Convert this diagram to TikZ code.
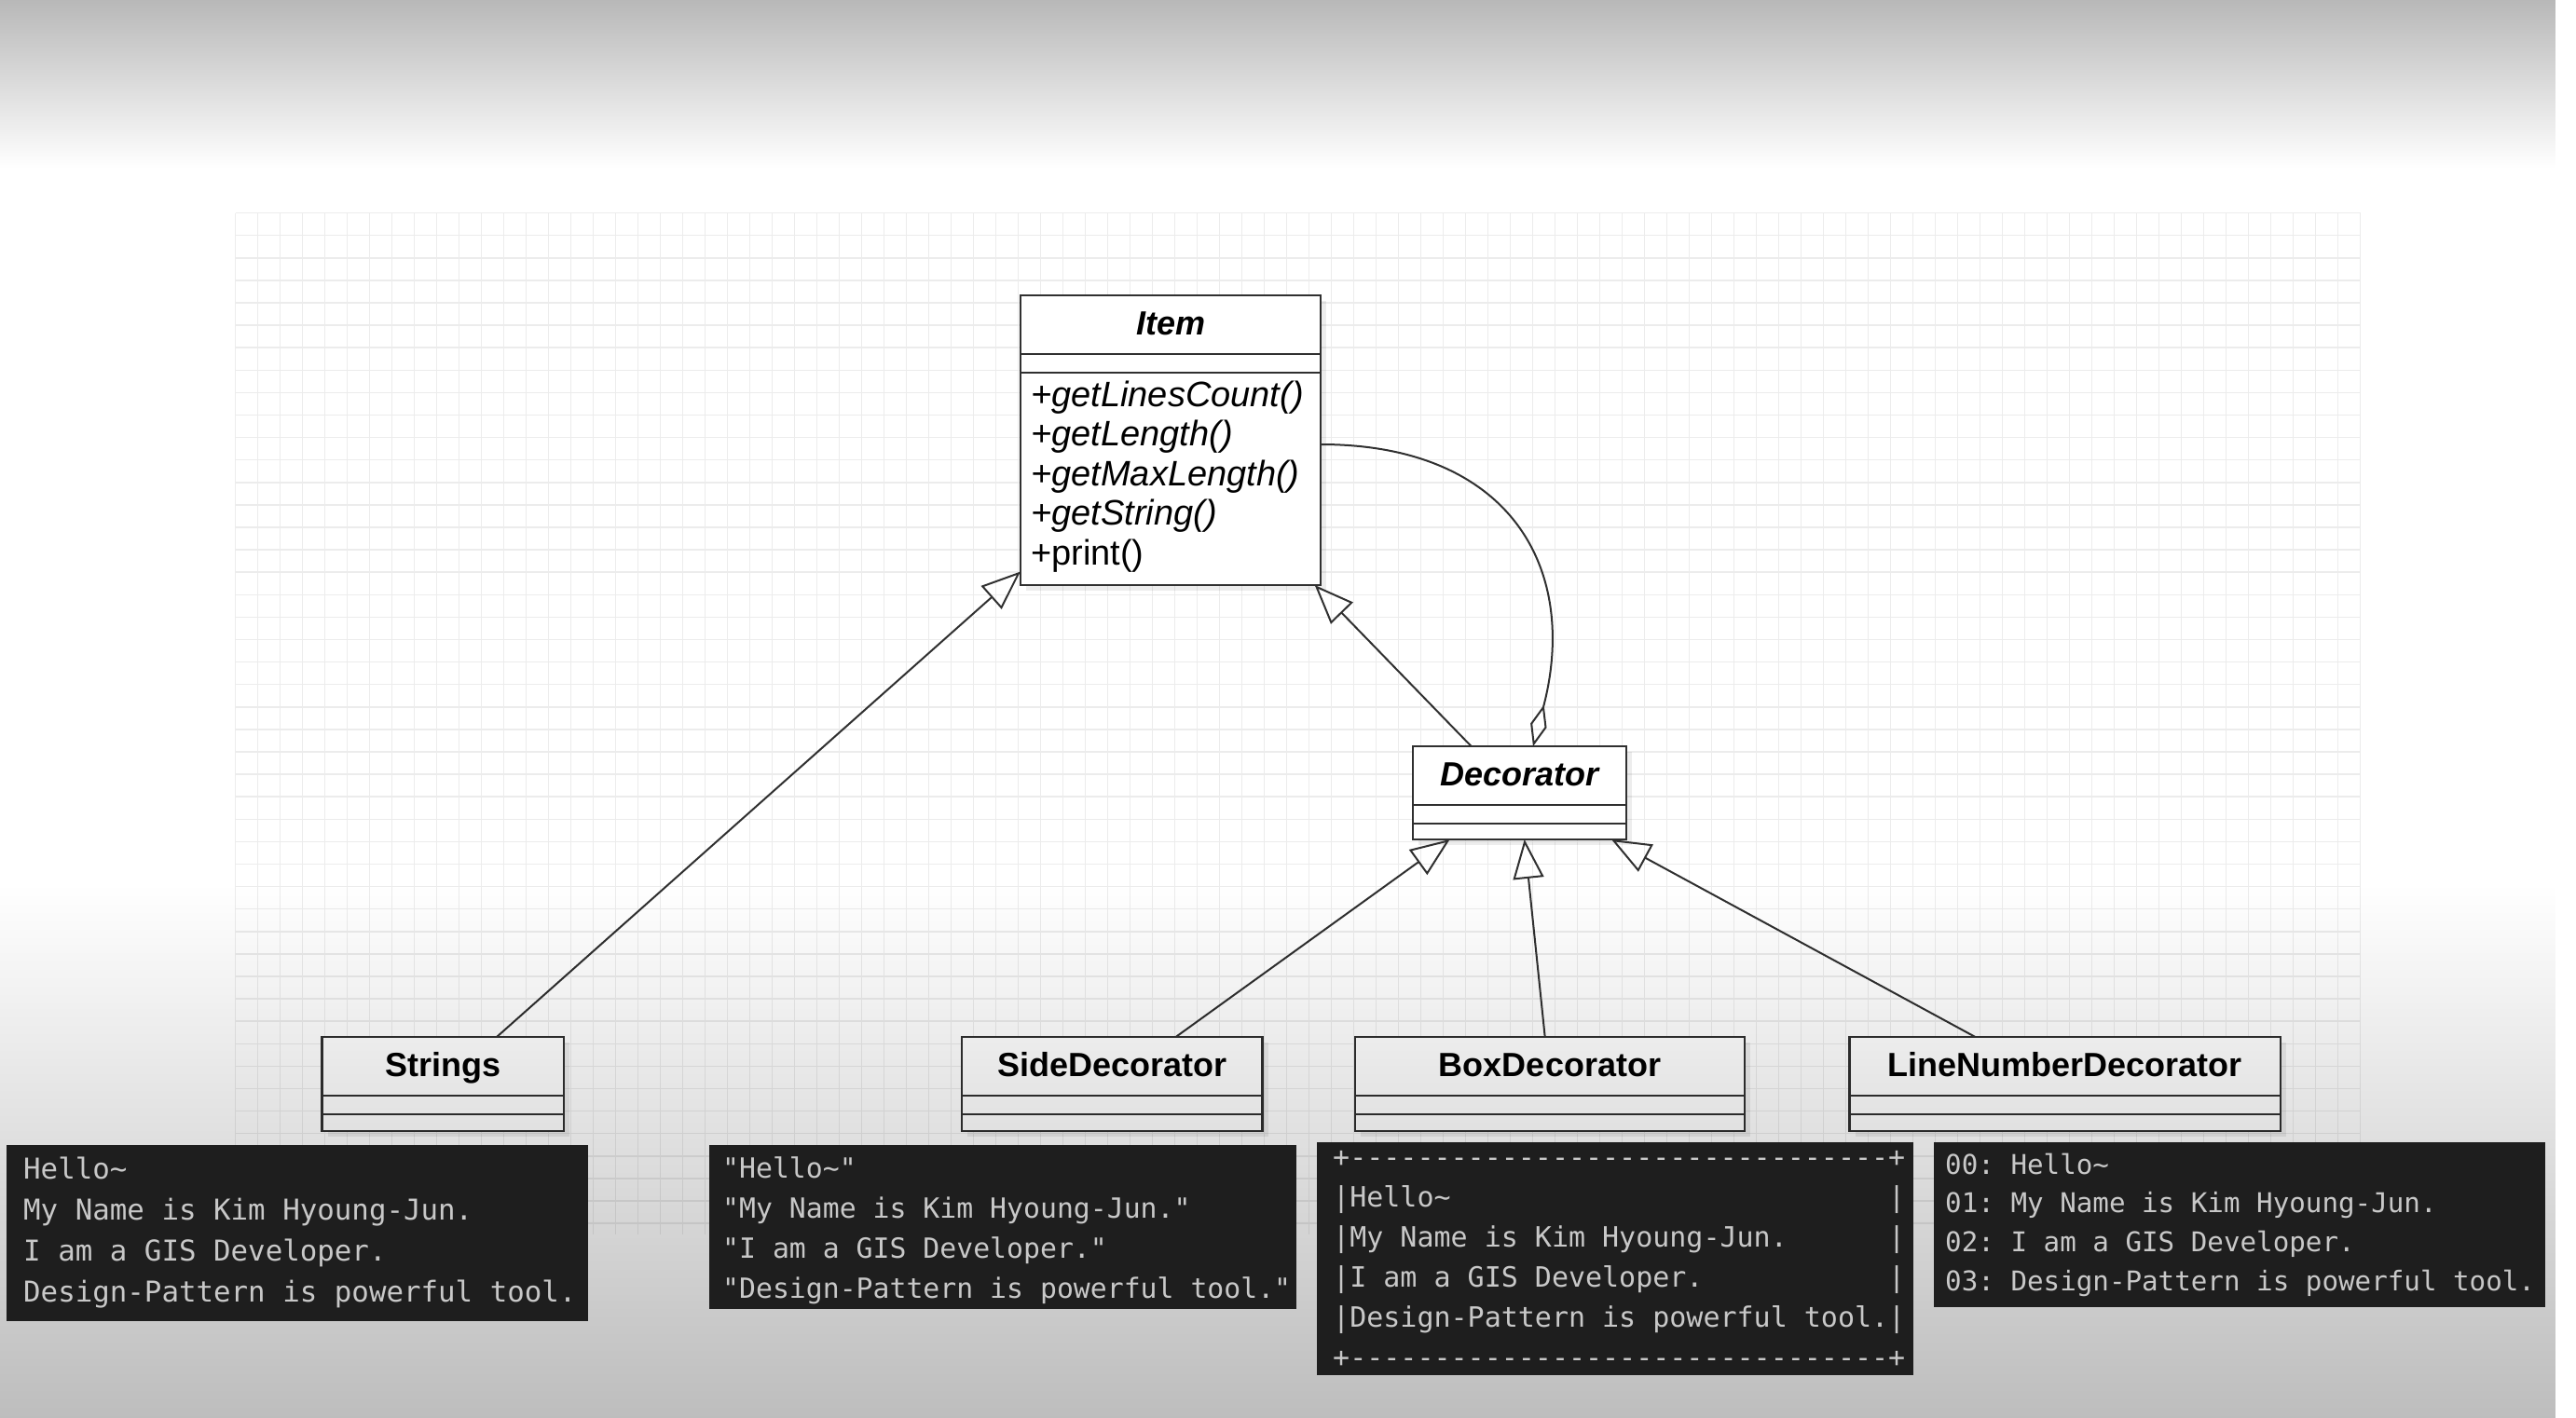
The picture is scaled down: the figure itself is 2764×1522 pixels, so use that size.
\documentclass[tikz,border=0pt]{standalone}
\usepackage{fontspec}
\setmainfont{Liberation Sans}
\setmonofont{DejaVu Sans Mono}
\usetikzlibrary{arrows.meta,calc,fadings,shadows}
\definecolor{lineC}{HTML}{303030}
\definecolor{consBg}{HTML}{1E1E1E}
\definecolor{consFg}{HTML}{C8C8C8}
\definecolor{gridC}{HTML}{ECECEC}
\tikzfading[name=fadedown, top color=transparent!100, bottom color=transparent!0]
\tikzfading[name=fadetop, top color=transparent!0, middle color=transparent!55, bottom color=transparent!100]
\begin{document}
\begin{tikzpicture}[x=1pt,y=-1pt,
  classbox/.style={draw=lineC, line width=2.4pt, fill=white, inner sep=0pt, outer sep=0pt,
     anchor=north west, minimum height=101pt,
     drop shadow={fill=black, opacity=0.07, shadow xshift=6pt, shadow yshift=-6pt}},
  seprule/.style={draw=lineC, line width=2.4pt},
  clstitle/.style={font=\fontsize{36}{40}\selectfont\bfseries, anchor=base, inner sep=0pt},
  clsititle/.style={font=\fontsize{36}{40}\selectfont\bfseries\itshape, anchor=base, inner sep=0pt},
  method/.style={font=\fontsize{38}{42}\selectfont\itshape, anchor=base west, inner sep=0pt},
  gen/.style={draw=lineC, line width=2pt, -{Triangle[open, length=42pt, width=33pt]}},
  agg/.style={draw=lineC, line width=2pt, {Diamond[open, length=46pt, width=18pt]}-},
  consbox/.style={fill=consBg, inner sep=0pt, outer sep=0pt, anchor=north west},
  ctext/.style={font=\ttfamily\fontsize{#1}{36}\selectfont, text=consFg, anchor=base west, inner sep=0pt},
  gridline/.style={draw=gridC, line width=1.5pt},
]
\useasboundingbox (0,0) rectangle (2764,1522);
\fill[white] (0,0) rectangle (2764,1522);
% grid
\foreach \k in {0,...,95} \draw[gridline] (252.5+24*\k,228.6) -- (252.5+24*\k,1325);
\foreach \k in {0,...,45} \draw[gridline] (252.5,228.6+24.1*\k) -- (2532.5,228.6+24.1*\k);

% classes
\node[classbox, minimum width=322pt, minimum height=311pt] (item) at (1095,317) {};
\node[classbox, minimum width=229pt, minimum height=100pt] (dec) at (1516,801) {};
\node[classbox, minimum width=259.5pt] (strings) at (345.5,1113) {};
\node[classbox, minimum width=322.5pt] (side) at (1032,1113) {};
\node[classbox, minimum width=418pt] (boxd) at (1454,1113) {};
\node[classbox, minimum width=462.5pt] (lnd) at (1984.5,1113) {};
\foreach \n in {item,dec,strings,side,boxd,lnd} {
  \draw[seprule] ($(\n.north west)+(0,63)$) -- ($(\n.north east)+(0,63)$);
  \draw[seprule] ($(\n.north west)+(0,83)$) -- ($(\n.north east)+(0,83)$);
}
\node[clsititle] (itemT) at ($(item.north)+(0,42)$) {Item};
\node[clsititle] (decT) at ($(dec.north)+(0,42)$) {Decorator};
\node[clstitle] (stringsT) at ($(strings.north)+(0,42)$) {Strings};
\node[clstitle] (sideT) at ($(side.north)+(0,42)$) {SideDecorator};
\node[clstitle] (boxdT) at ($(boxd.north)+(0,42)$) {BoxDecorator};
\node[clstitle] (lndT) at ($(lnd.north)+(0,42)$) {LineNumberDecorator};

\node[method] (m1) at ($(item.north west)+(11,119)$) {+getLinesCount()};
\node[method] (m2) at ($(item.north west)+(11,161.5)$) {+getLength()};
\node[method] (m3) at ($(item.north west)+(11,204)$) {+getMaxLength()};
\node[method] (m4) at ($(item.north west)+(11,246.5)$) {+getString()};
\node[method, font=\fontsize{38}{42}\selectfont] (m5) at ($(item.north west)+(11,289)$) {+print()};

% connectors
\coordinate (sTop) at ($(strings.north west)+(187.5,0)$);
\coordinate (itemSW) at ($(item.south west)+(0,-14.5)$);
\draw[gen] (sTop) -- (itemSW);
\coordinate (dGen) at ($(dec.north west)+(62.6,0)$);
\coordinate (itemSE) at ($(item.south east)+(-6.3,0)$);
\draw[gen] (dGen) -- (itemSE);
\coordinate (dAgg) at ($(dec.north west)+(129,0)$);
\coordinate (itemE) at ($(item.north east)+(0,160)$);
\draw[agg] (dAgg) .. controls ($(dAgg)+(50,-191)$) and ($(itemE)+(203,0)$) .. (itemE);
\coordinate (sideTop) at ($(side.north west)+(229.6,0)$);
\coordinate (decS1) at ($(dec.south west)+(39.6,0)$);
\draw[gen] (sideTop) -- (decS1);
\coordinate (boxTop) at ($(boxd.north west)+(203.7,0)$);
\coordinate (decS2) at ($(dec.south west)+(119.7,0)$);
\draw[gen] (boxTop) -- (decS2);
\coordinate (lnTop) at ($(lnd.north west)+(134.9,0)$);
\coordinate (decS3) at ($(dec.south west)+(213,0)$);
\draw[gen] (lnTop) -- (decS3);

% vignette overlays
\fill[black, opacity=0.26, path fading=fadedown] (0,950) rectangle (2764,1522);
\fill[black, opacity=0.28, path fading=fadetop] (0,0) rectangle (2764,180);

% consoles
\node[consbox, minimum width=624pt, minimum height=189pt] (conS) at (7,1229) {};
\node[consbox, minimum width=630pt, minimum height=176pt] (conSide) at (761,1229) {};
\node[consbox, minimum width=640pt, minimum height=250pt] (conBox) at (1413,1226) {};
\node[consbox, minimum width=656pt, minimum height=177pt] (conLN) at (2075,1226) {};

\foreach \t [count=\i from 0] in {Hello\textasciitilde, My Name is Kim Hyoung-Jun., I am a GIS Developer., Design-Pattern is powerful tool.}
  \node[ctext=30.8] (cs\i) at ($(conS.north west)+(18,36+44*\i)$) {\t};
\foreach \t [count=\i from 0] in {"Hello\textasciitilde", "My Name is Kim Hyoung-Jun.", "I am a GIS Developer.", "Design-Pattern is powerful tool."}
  \node[ctext=29.8] (csd\i) at ($(conSide.north west)+(14,35+43*\i)$) {\t};
\node[ctext=30] (cb0) at ($(conBox.north west)+(17,26)$) {+--------------------------------+};
\foreach \t [count=\i from 1] in {Hello\textasciitilde, My Name is Kim Hyoung-Jun., I am a GIS Developer., Design-Pattern is powerful tool.} {
  \node[ctext=30] (cb\i) at ($(conBox.north west)+(17,26+43*\i)$) {|\t};
  \node[ctext=30] (cbr\i) at ($(conBox.north west)+(613,26+43*\i)$) {|};
}
\node[ctext=30] (cb5) at ($(conBox.north west)+(17,241)$) {+--------------------------------+};
\foreach \t [count=\i from 0] in {00: Hello\textasciitilde, 01: My Name is Kim Hyoung-Jun., 02: I am a GIS Developer., 03: Design-Pattern is powerful tool.}
  \node[ctext=29.2] (cl\i) at ($(conLN.north west)+(12,34+41.7*\i)$) {\t};
\end{tikzpicture}
\end{document}
